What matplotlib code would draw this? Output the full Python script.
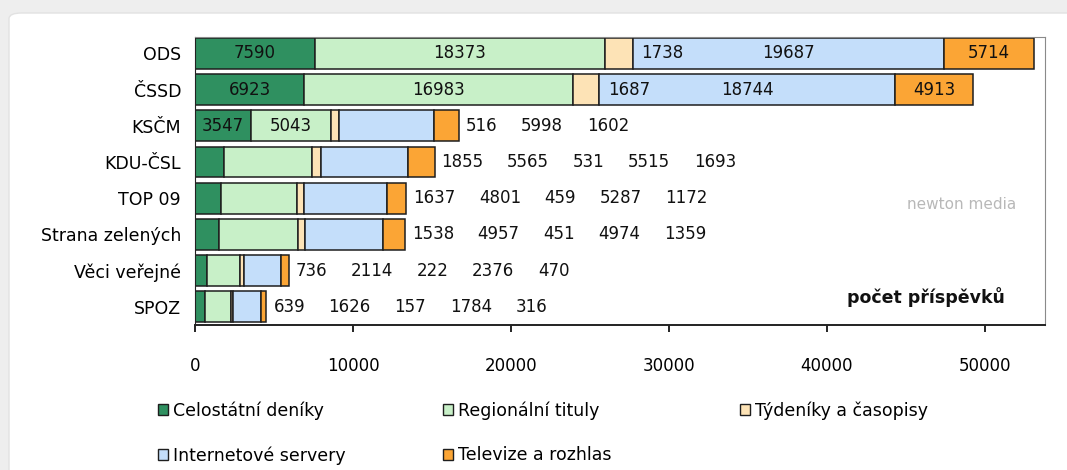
import matplotlib.pyplot as plt
from matplotlib.patches import FancyBboxPatch, Patch
import numpy as np

parties = ['ODS', 'ČSSD', 'KSČM', 'KDU-ČSL', 'TOP 09', 'Strana zelených', 'Věci veřejné', 'SPOZ']
media = ['Celostátní deníky', 'Regionální tituly', 'Týdeníky a časopisy',
         'Internetové servery', 'Televize a rozhlas']

celostatni = [7590, 6923, 3547, 1855, 1637, 1538, 736, 639]
regionalni = [18373, 16983, 5043, 5565, 4801, 4957, 2114, 1626]
tydeniky = [1738, 1687, 516, 531, 459, 451, 222, 157]
internet = [19687, 18744, 5998, 5515, 5287, 4974, 2376, 1784]
televize = [5714, 4913, 1602, 1693, 1172, 1359, 470, 316]

colors = ['#2f9060', '#c8f0c8', '#fde3b6', '#c4defa', '#fba535']
# how many labels sit inside the bar, the rest follow the bar end
inside = [5, 5, 2, 0, 0, 0, 0, 0]

plt.rcParams['font.family'] = ['DejaVu Sans']

fig = plt.figure(figsize=(10.67, 4.7), dpi=100, facecolor='#eeeeee')
card = FancyBboxPatch((9 / 1067, -0.05), 1.1, 1 - 13 / 470 + 0.05,
                      boxstyle='round,pad=0,rounding_size=0.012',
                      transform=fig.transFigure, facecolor='white',
                      edgecolor='#e2e2e2', lw=1, zorder=-5)
fig.patches.append(card)

ax = fig.add_axes([195 / 1067, 1 - 325 / 470, 850 / 1067, 288 / 470])
ax.set_facecolor('none')
ax.set_zorder(3)

series = np.array([celostatni, regionalni, tydeniky, internet, televize])
y = np.arange(len(parties))
left = np.zeros(len(parties))
for k in range(len(media)):
    ax.barh(y, series[k], left=left, height=0.85, color=colors[k],
            edgecolor='#1e1e1e', lw=1.1, label=media[k], zorder=2)
    left = left + series[k]

lab = dict(fontsize=12, va='center', color='#111111', zorder=3)
for i in range(len(parties)):
    starts = np.concatenate([[0], np.cumsum(series[:, i])[:-1]])
    n_in = inside[i]
    for k in range(n_in):
        v = series[k, i]
        if v < 2500:
            ax.annotate(str(v), xy=(starts[k] + v, i), xytext=(6, 0),
                        textcoords='offset points', ha='left', **lab)
        else:
            ax.text(starts[k] + v / 2, i, str(v), ha='center', **lab)
    prev = None
    for k in range(n_in, len(media)):
        v = series[k, i]
        if prev is None:
            prev = ax.annotate(str(v), xy=(series[:, i].sum(), i), xytext=(5, 0),
                               textcoords='offset points', ha='left', **lab)
        else:
            prev = ax.annotate(str(v), xy=(1, 0.5), xycoords=prev, xytext=(17, 0),
                               textcoords='offset points', ha='left', **lab)

ax.set_xlim(0, 53800)
ax.set_ylim(7.5, -0.45)
ax.set_yticks(y)
ax.set_yticklabels(parties, fontsize=12.5)
ax.set_xticks(np.arange(0, 50001, 10000))
ax.tick_params(axis='y', length=0, pad=10)
ax.tick_params(axis='x', direction='out', length=5, width=1.2, pad=18, labelsize=12)
for s in ['top', 'right']:
    ax.spines[s].set_color('#8a8a8a')
ax.spines['bottom'].set_linewidth(1.4)
ax.spines['bottom'].set_color('#222222')
ax.spines['left'].set_color('#222222')

ax.text(0.953, 0.097, 'počet příspěvků', transform=ax.transAxes, ha='right',
        va='center', fontsize=12.5, fontweight='bold', color='#111111')
ax.text(0.902, 0.42, 'newton media', transform=ax.transAxes, ha='center',
        va='center', fontsize=11, color='#b8b8b8')

handles = [Patch(facecolor=c, edgecolor='#1e1e1e', lw=1) for c in colors]
cols = [([0, 3], 158), ([1, 4], 443), ([2], 740)]
for idx, xpix in cols:
    fig.legend([handles[j] for j in idx], [media[j] for j in idx],
               loc='upper left', bbox_to_anchor=(xpix / 1067, 1 - 401 / 470),
               frameon=False, fontsize=12.5, handlelength=0.6, handleheight=0.6,
               handletextpad=0.25, labelspacing=1.55, borderpad=0, borderaxespad=0)

fig.savefig('out.png', dpi=100, facecolor=fig.get_facecolor())
